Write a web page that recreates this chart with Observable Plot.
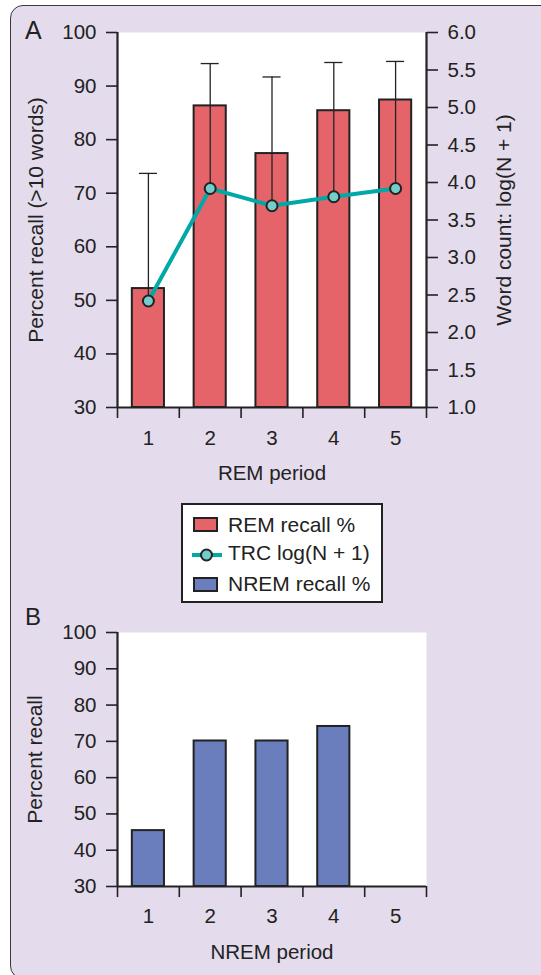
<!DOCTYPE html>
<html><head><meta charset="utf-8">
<script src="https://cdn.jsdelivr.net/npm/d3@7"></script>
<script src="https://cdn.jsdelivr.net/npm/@observablehq/plot@0.6"></script>
<style>
body{margin:0;background:#fff;font-family:"Liberation Sans",Arial,Helvetica,sans-serif;color:#222}
#wrap{position:relative;width:541px;height:975px;overflow:hidden}
#panel{position:absolute;left:10px;top:5px;width:545px;height:974px;background:#E4DCEC;border:1.5px solid #3a3a3a;border-radius:13px;box-sizing:border-box;box-shadow:1px 1px 1px rgba(0,0,0,0.25)}
.abs{position:absolute}
.letter{position:absolute;line-height:1;font-size:25px;color:#222}
#legend{position:absolute;left:181px;top:503px;width:202px;height:100px;box-sizing:border-box;border:2px solid #222;background:#fff}
#legend .t{position:absolute;left:45px;font-size:21px;line-height:1;white-space:nowrap;color:#222}
#legend .sw{position:absolute;box-sizing:border-box;border:2px solid #222}
</style></head><body>
<div id="wrap">
  <div id="panel"></div>
  <div id="chartA" class="abs" style="left:0;top:0"></div>
  <div id="chartB" class="abs" style="left:0;top:600px"></div>
  <div class="letter" style="left:25px;top:18px">A</div>
  <div class="letter" style="left:25px;top:605px;font-size:24px">B</div>
  <div id="legend"></div>
</div>
<script>
// ---- data ----
const periods = [1, 2, 3, 4, 5];
const remRecall = [52.2, 86.3, 77.4, 85.4, 87.4];
const remErrorTop = [73.7, 94.2, 91.7, 94.4, 94.6];
const trcLog = [2.42, 3.92, 3.69, 3.81, 3.92];
const nremPeriods = [1, 2, 3, 4];
const nremRecall = [45.4, 70.1, 70.1, 74.1];
const leftTicks = [30, 40, 50, 60, 70, 80, 90, 100];
const rightTicks = [1.0, 1.5, 2.0, 2.5, 3.0, 3.5, 4.0, 4.5, 5.0, 5.5, 6.0];
const periodBounds = [0.5, 1.5, 2.5, 3.5, 4.5, 5.5];
const legendLabels = ["REM recall %", "TRC log(N + 1)", "NREM recall %"];

// ---- styles ----
const RED = "#E5646A", BLUE = "#6A7EBE", TEAL = "#00A9A7", DOT = "#72CDCB", INK = "#222";
const FONT = '"Liberation Sans", Arial, Helvetica, sans-serif';

// right axis (1–6) mapped onto left scale (30–100)
const toLeft = v => 30 + (v - 1) * 14;
const fromLeft = y => (y - 30) / 14 + 1;

const rem = periods.map((p, i) => ({period: p, recall: remRecall[i], err: remErrorTop[i], trc: trcLog[i]}));
const nrem = nremPeriods.map((p, i) => ({period: p, recall: nremRecall[i]}));

const halfBar = 0.26, capHalf = 0.146;
const common = {
  width: 541, marginLeft: 117, marginRight: 115,
  x: {domain: [0.5, 5.5]},
  style: {background: "transparent", fontFamily: FONT, fontSize: "20.5px", color: INK, overflow: "visible"}
};
const axisMarks = (labelPad) => [
  Plot.ruleY([30], {stroke: INK, strokeWidth: 2.2}),
  Plot.ruleX([0.5], {stroke: INK, strokeWidth: 2.2}),
  Plot.axisY(leftTicks, {anchor: "left", tickSize: 11, tickPadding: 10, label: null, strokeWidth: 1.6}),
  Plot.axisX(periods, {tickSize: 0, tickPadding: labelPad, label: null, tickFormat: d => String(d)}),
  Plot.axisX(periodBounds, {tickSize: 11, tickFormat: () => "", label: null, strokeWidth: 1.6})
];
const label = (txt, opts) => Plot.text([txt], {text: d => d, textAnchor: "middle", lineAnchor: "middle", ...opts});

const A = Plot.plot({
  ...common, height: 490, marginTop: 32, marginBottom: 83,
  y: {domain: [30, 100]},
  marks: [
    Plot.frame({fill: "white", stroke: "none"}),
    Plot.rectY(rem, {x1: d => d.period - halfBar, x2: d => d.period + halfBar, y1: 30, y2: "recall", fill: RED, stroke: INK, strokeWidth: 2}),
    Plot.ruleX(rem, {x: "period", y1: d => toLeft(d.trc), y2: "err", stroke: INK, strokeWidth: 1.3}),
    Plot.ruleY(rem, {y: "err", x1: d => d.period - capHalf, x2: d => d.period + capHalf, stroke: INK, strokeWidth: 1.3}),
    Plot.line(rem, {x: "period", y: d => toLeft(d.trc), stroke: TEAL, strokeWidth: 4}),
    Plot.dot(rem, {x: "period", y: d => toLeft(d.trc), r: 5.5, fill: DOT, stroke: INK, strokeWidth: 2}),
    ...axisMarks(23),
    Plot.ruleX([5.5], {stroke: INK, strokeWidth: 2.2}),
    Plot.axisY(rightTicks.map(toLeft), {anchor: "right", tickSize: 11, tickPadding: 10, label: null, strokeWidth: 1.6, tickFormat: d => fromLeft(d).toFixed(1)}),
    label("Percent recall (>10 words)", {frameAnchor: "left", dx: -81, rotate: -90, fontSize: 21}),
    label("Word count: log(N + 1)", {frameAnchor: "right", dx: 78, rotate: -90, fontSize: 21}),
    label("REM period", {frameAnchor: "bottom", dy: 66})
  ]
});
document.getElementById("chartA").append(A);

const B = Plot.plot({
  ...common, height: 375, marginTop: 32, marginBottom: 89,
  y: {domain: [30, 100]},
  marks: [
    Plot.frame({fill: "white", stroke: "none"}),
    Plot.rectY(nrem, {x1: d => d.period - halfBar, x2: d => d.period + halfBar, y1: 30, y2: "recall", fill: BLUE, stroke: INK, strokeWidth: 2}),
    ...axisMarks(22),
    label("Percent recall", {frameAnchor: "left", dx: -82, rotate: -90, fontSize: 21}),
    label("NREM period", {frameAnchor: "bottom", dy: 66})
  ]
});
document.getElementById("chartB").append(B);

// ---- legend ----
const lg = document.getElementById("legend");
const rowsTop = [9, 37, 67.5];
legendLabels.forEach((lab, i) => {
  const t = document.createElement("div");
  t.className = "t"; t.style.top = rowsTop[i] + "px"; t.textContent = lab;
  lg.append(t);
});
const sw1 = document.createElement("div");
sw1.className = "sw"; Object.assign(sw1.style, {left: "10px", top: "12px", width: "25px", height: "15px", background: RED});
const sw3 = document.createElement("div");
sw3.className = "sw"; Object.assign(sw3.style, {left: "10px", top: "72px", width: "25px", height: "15px", background: BLUE});
lg.append(sw1, sw3);
const ns = "http://www.w3.org/2000/svg";
const s = document.createElementNS(ns, "svg");
s.setAttribute("width", 34); s.setAttribute("height", 20);
Object.assign(s.style, {position: "absolute", left: "7px", top: "40px"});
s.innerHTML = `<line x1="2" x2="32" y1="10" y2="10" stroke="${TEAL}" stroke-width="4"/><circle cx="16.5" cy="10" r="5.5" fill="${DOT}" stroke="${INK}" stroke-width="2"/>`;
lg.append(s);
</script>
</body></html>
